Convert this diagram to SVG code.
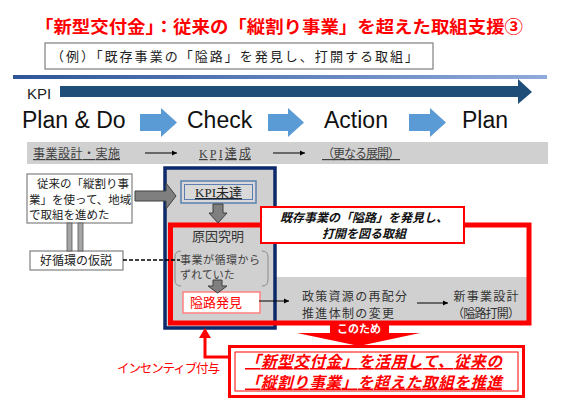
<svg xmlns="http://www.w3.org/2000/svg" width="570" height="419" viewBox="0 0 570 419">
<style>
.jp{font-family:"Noto Sans CJK JP","Noto Sans",sans-serif}
.mj{font-family:"Liberation Serif","Noto Sans CJK JP",serif}
.en{font-family:"Liberation Sans",Arial,sans-serif}
.pd{font-family:"Liberation Sans",Arial,sans-serif;font-size:23px;fill:#111}
.blk{fill:#7f7f7f;stroke:#404040;stroke-width:1}
.lb{fill:#5b9bd5}
.thin{stroke:#000;stroke-width:1;fill:none}
</style>
<defs>
<linearGradient id="ln" x1="0" x2="1" y1="0" y2="0">
<stop offset="0" stop-color="#2f5597"/>
<stop offset="1" stop-color="#8faadc"/>
</linearGradient>
<marker id="ah" markerWidth="6" markerHeight="6" refX="5" refY="3" orient="auto" markerUnits="userSpaceOnUse">
<path d="M0,0.5 L5,3 L0,5.5 Z" fill="#000"/>
</marker>
</defs>
<rect width="570" height="419" fill="#fff"/>

<g id="title">
<text class="jp" x="35" y="33" font-size="17" font-weight="bold" fill="#ff0000" textLength="488" lengthAdjust="spacingAndGlyphs">「新型交付金」：従来の「縦割り事業」を超えた取組支援③</text>
</g>
<g id="subtitle">
<rect x="45" y="43" width="388" height="26" fill="#fff" stroke="#7f7f7f" stroke-width="1.2"/>
<text class="jp" x="51" y="61" font-size="13" fill="#222" textLength="367" lengthAdjust="spacing">（例）「既存事業の「隘路」を発見し、打開する取組」</text>
</g>
<rect x="13" y="75" width="534" height="4" fill="url(#ln)"/>

<g id="kpi">
<text class="en" x="27" y="99" font-size="15" fill="#222">KPI</text>
<polygon points="60,86 518,86 518,79 532,92 518,104 518,97 60,97" fill="#1f4e79"/>
</g>

<g id="phases">
<text class="pd" x="22" y="128">Plan &amp; Do</text>
<text class="pd" x="187" y="128">Check</text>
<text class="pd" x="324" y="128">Action</text>
<text class="pd" x="462" y="128">Plan</text>
<polygon class="lb" points="140,114 161,114 161,108 177,122.5 161,137 161,131 140,131"/>
<polygon class="lb" points="268,114 288,114 288,108 304,122.5 288,137 288,131 268,131"/>
<polygon class="lb" points="409,114 430,114 430,108 446,122.5 430,137 430,131 409,131"/>
</g>

<g id="band">
<rect x="27" y="142" width="521" height="22" fill="#d0d0d0"/>
<text class="mj" x="33" y="158" font-size="12" fill="#404040" text-decoration="underline" textLength="87" lengthAdjust="spacing">事業設計・実施</text>
<text class="mj" x="199" y="158" font-size="12" fill="#404040" text-decoration="underline" textLength="52" lengthAdjust="spacing">KPI達成</text>
<text class="mj" x="322" y="158" font-size="12" fill="#404040" text-decoration="underline" textLength="78" lengthAdjust="spacing">（更なる展開）</text>
</g>

<g id="left-box">
<rect x="27" y="174" width="105" height="49" fill="#fff" stroke="#808080" stroke-width="1.2"/>
<text class="jp" font-size="11.5" fill="#222"><tspan x="37" y="188">従来の「縦割り事</tspan><tspan x="29" y="203.5">業」を使って、地域</tspan><tspan x="29" y="219">で取組を進めた</tspan></text>
</g>
<g id="hypothesis">
<rect x="30" y="251" width="93" height="19" fill="#fff" stroke="#808080" stroke-width="1.2"/>
<text class="jp" x="76" y="265" font-size="12" fill="#222" text-anchor="middle">好循環の仮説</text>
</g>

<g id="check-col">
<rect x="165" y="168" width="110" height="160" fill="#d0d0d0"/>
</g>
<rect x="275" y="277" width="255" height="46" fill="#d0d0d0"/>

<g id="kpi-miss">
<rect x="181" y="181" width="75" height="22" fill="#d9d9d9" stroke="#5b7fb0" stroke-width="1.5"/>
<rect x="184.5" y="184.5" width="68" height="15" fill="none" stroke="#5b7fb0" stroke-width="1"/>
<text class="mj" x="218.5" y="197" font-size="13" fill="#222" text-anchor="middle" text-decoration="underline">KPI未達</text>
</g>

<g id="cause">
<text class="jp" x="218" y="241" font-size="13" fill="#333" text-anchor="middle">原因究明</text>
<path d="M181,251 Q175,251 175,257 L175,280 Q175,286 181,286" fill="none" stroke="#8a8a8a" stroke-width="1"/>
<path d="M262,251 Q268,251 268,257 L268,280 Q268,286 262,286" fill="none" stroke="#8a8a8a" stroke-width="1"/>
<text class="jp" font-size="11" fill="#404040"><tspan x="180" y="264" textLength="80" lengthAdjust="spacing">事業が循環から</tspan><tspan x="180" y="278.5">ずれていた</tspan></text>
</g>

<g id="bottleneck">
<rect x="183" y="292" width="77" height="21" fill="#fff" stroke="#ff8080" stroke-width="1.5"/>
<text class="jp" x="190" y="307" font-size="13" fill="#ff0000">隘路発見</text>
</g>

<g id="realloc">
<text class="jp" font-size="12" fill="#333"><tspan x="302" y="300.5" textLength="105" lengthAdjust="spacing">政策資源の再配分</tspan><tspan x="302" y="317.5" textLength="92" lengthAdjust="spacing">推進体制の変更</tspan></text>
</g>
<g id="newdesign">
<text class="jp" font-size="12" fill="#333" text-anchor="middle"><tspan x="486" y="300.5" textLength="65" lengthAdjust="spacing">新事業設計</tspan><tspan x="486" y="317.5" textLength="68" lengthAdjust="spacing">（隘路打開）</tspan></text>
</g>

<rect x="165" y="168" width="110" height="160" fill="none" stroke="#0c2a6a" stroke-width="3.5"/>
<rect x="170.5" y="225" width="358.5" height="98" fill="none" stroke="#ff0000" stroke-width="5"/>

<g id="callout">
<rect x="261" y="207" width="203" height="36" fill="#fff" stroke="#ff0000" stroke-width="2"/>
<text class="jp" font-size="12" font-weight="bold" font-style="italic" fill="#111" text-anchor="middle"><tspan x="364" y="222">既存事業の「隘路」を発見し、</tspan><tspan x="364" y="238">打開を図る取組</tspan></text>
</g>

<g id="result">
<polygon points="330,323 389,323 389,333 420,333 359,346 297,333 330,333" fill="#ff0000"/>
<text class="jp" x="359" y="333" font-size="11" font-weight="bold" fill="#fff" text-anchor="middle">このため</text>
<rect x="229.5" y="346.5" width="294" height="50" fill="#fff" stroke="#ff0000" stroke-width="3"/>
<rect x="235" y="352" width="283" height="39" fill="none" stroke="#ff0000" stroke-width="1"/>
<text class="jp" font-size="15.5" font-weight="bold" font-style="italic" fill="#ff0000" text-decoration="underline"><tspan x="245" y="367" textLength="257" lengthAdjust="spacing">「新型交付金」を活用して、従来の</tspan><tspan x="245" y="387.5" textLength="257" lengthAdjust="spacing">「縦割り事業」を超えた取組を推進</tspan></text>
</g>

<g id="incentive">
<text class="jp" x="117" y="373" font-size="12.5" fill="#ff0000" textLength="103" lengthAdjust="spacing">インセンティブ付与</text>
</g>

<g id="connectors">
<polygon class="blk" points="135,191 166,191 166,183 176,196 166,209 166,201 135,201"/>
<polygon class="blk" points="213,204 223,204 223,213 227,213 218,223 209,213 213,213"/>
<polygon class="blk" points="213,280 222,280 222,286 227,286 217.5,293 208,286 213,286"/>
<rect x="67" y="223" width="5" height="28" fill="#a6a6a6" stroke="#595959" stroke-width="0.8"/>
<rect x="78" y="223" width="5" height="28" fill="#a6a6a6" stroke="#595959" stroke-width="0.8"/>
<line x1="123" y1="260" x2="180" y2="260" stroke="#000" stroke-width="1.5" stroke-dasharray="4,2"/>
<line class="thin" x1="145" y1="153" x2="177" y2="153" marker-end="url(#ah)"/>
<line class="thin" x1="273" y1="153" x2="305" y2="153" marker-end="url(#ah)"/>
<line class="thin" x1="259" y1="301" x2="289" y2="301" marker-end="url(#ah)"/>
<line class="thin" x1="417" y1="303" x2="448" y2="303" marker-end="url(#ah)"/>
<path d="M228,357 H205 V336" fill="none" stroke="#ff0000" stroke-width="3"/>
<polygon points="205,328 199,338 211,338" fill="#ff0000"/>
</g>
</svg>
